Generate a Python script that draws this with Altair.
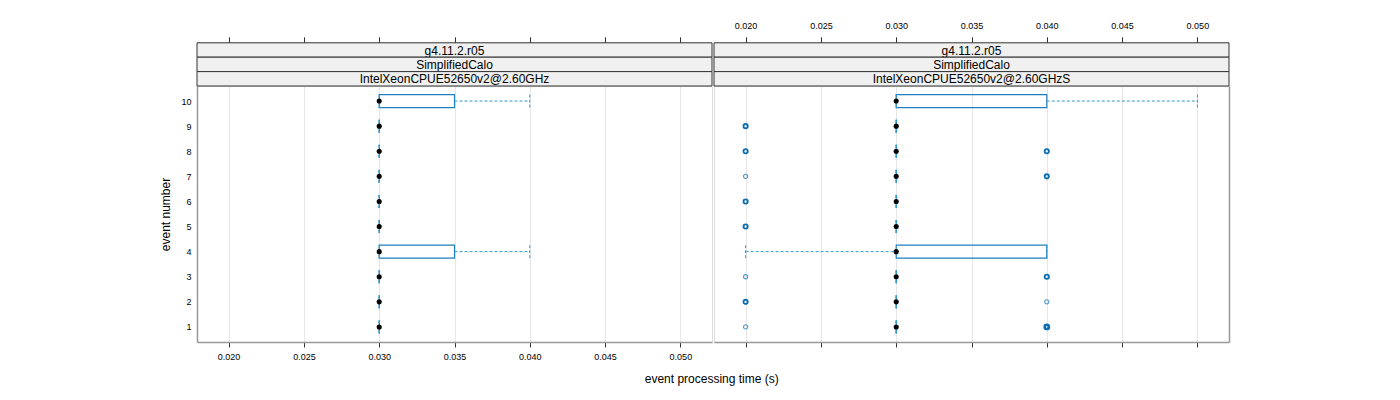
import altair as alt
import pandas as pd

# ---------------- data ----------------
events = [1, 2, 3, 4, 5, 6, 7, 8, 9, 10]
strip_rows = ["g4.11.2.r05", "SimplifiedCalo"]
panel_names = ["IntelXeonCPUE52650v2@2.60GHz", "IntelXeonCPUE52650v2@2.60GHzS"]
x_ticks = [0.020, 0.025, 0.030, 0.035, 0.040, 0.045, 0.050]
y_ticks = [1, 2, 3, 4, 5, 6, 7, 8, 9, 10]

# left panel box statistics (event 1..10)
left_lo = [0.030, 0.030, 0.030, 0.030, 0.030, 0.030, 0.030, 0.030, 0.030, 0.030]
left_q1 = [0.030, 0.030, 0.030, 0.030, 0.030, 0.030, 0.030, 0.030, 0.030, 0.030]
left_med = [0.030, 0.030, 0.030, 0.030, 0.030, 0.030, 0.030, 0.030, 0.030, 0.030]
left_q3 = [0.030, 0.030, 0.030, 0.035, 0.030, 0.030, 0.030, 0.030, 0.030, 0.035]
left_hi = [0.030, 0.030, 0.030, 0.040, 0.030, 0.030, 0.030, 0.030, 0.030, 0.040]

# right panel box statistics (event 1..10)
right_lo = [0.030, 0.030, 0.030, 0.020, 0.030, 0.030, 0.030, 0.030, 0.030, 0.030]
right_q1 = [0.030, 0.030, 0.030, 0.030, 0.030, 0.030, 0.030, 0.030, 0.030, 0.030]
right_med = [0.030, 0.030, 0.030, 0.030, 0.030, 0.030, 0.030, 0.030, 0.030, 0.030]
right_q3 = [0.030, 0.030, 0.030, 0.040, 0.030, 0.030, 0.030, 0.030, 0.030, 0.040]
right_hi = [0.030, 0.030, 0.030, 0.040, 0.030, 0.030, 0.030, 0.030, 0.030, 0.050]

# right panel outliers (count = how many overlapping points)
out_event = [9, 8, 8, 7, 7, 6, 5, 3, 3, 2, 2, 1, 1]
out_value = [0.020, 0.020, 0.040, 0.020, 0.040, 0.020, 0.020, 0.020, 0.040, 0.020, 0.040, 0.020, 0.040]
out_count = [2, 2, 2, 1, 2, 2, 2, 1, 2, 2, 1, 1, 3]

# ---------------- style ----------------
FONT = "Liberation Sans"
W, H = 515, 256
STRIP_H = 14.4
BOX = 13
BOX_COL = "#1f7fbf"
WHISK_COL = "#3399cc"
OUT_COL = "#0a6eb4"
FRAME = "#999999"

xs = alt.Scale(domain=[0.0179, 0.0521], nice=False, zero=False, padding=0)
ys = alt.Scale(domain=[0.4, 10.6], nice=False, zero=False, padding=0)


def panel(idx, lo, q1, med, q3, hi, outliers):
    df = pd.DataFrame({"event": events, "lo": lo, "q1": q1, "med": med, "q3": q3, "hi": hi})
    base = alt.Chart(df)
    left = idx == 0

    bottom_axis = alt.Axis(
        orient="bottom", values=x_ticks, format=".3f", grid=True, gridColor="#e6e6e6",
        domainColor=FRAME, domainWidth=1.5, tickColor="#333333", tickSize=5,
        labelFontSize=9, labelPadding=5, labelColor="#000000" if left else "transparent",
        title=None, labelFont=FONT,
    )
    top_axis = alt.Axis(
        orient="top", values=x_ticks, format=".3f", grid=False, offset=3 * STRIP_H,
        domain=False, tickColor="#333333", tickSize=6, labelFontSize=9, labelPadding=6,
        labelColor="transparent" if left else "#000000", title=None, labelFont=FONT,
    )
    if left:
        y_axis = alt.Axis(
            orient="left", values=y_ticks, format="d", ticks=False, grid=False,
            domainColor=FRAME, domainWidth=1.5, labelFontSize=9, labelPadding=6,
            title="event number", titleFontSize=12, titleFontWeight="normal",
            titlePadding=8, labelFont=FONT, titleFont=FONT,
        )
    else:
        y_axis = alt.Axis(
            orient="right", values=y_ticks, ticks=False, labels=False, grid=False,
            domainColor=FRAME, domainWidth=1.5, title=None,
        )

    boxes = base.mark_bar(
        orient="horizontal", size=BOX, fill="transparent", stroke=BOX_COL, strokeWidth=1.2
    ).encode(
        x=alt.X("q1:Q", scale=xs, axis=bottom_axis),
        x2="q3:Q",
        y=alt.Y("event:Q", scale=ys, axis=y_axis),
    )
    top_ax = base.mark_point(opacity=0).encode(
        x=alt.X("med:Q", scale=xs, axis=top_axis),
        y=alt.Y("event:Q", scale=ys, axis=None),
    )
    wh_up = base.mark_rule(color=WHISK_COL, strokeDash=[3, 2], strokeWidth=1).encode(
        x=alt.X("q3:Q", scale=xs, axis=None), x2="hi:Q",
        y=alt.Y("event:Q", scale=ys, axis=None),
    )
    wh_lo = base.mark_rule(color=WHISK_COL, strokeDash=[3, 2], strokeWidth=1).encode(
        x=alt.X("lo:Q", scale=xs, axis=None), x2="q1:Q",
        y=alt.Y("event:Q", scale=ys, axis=None),
    )
    cap_up = base.mark_rule(
        color=WHISK_COL, strokeDash=[3, 2], strokeWidth=1, yOffset=-BOX / 2, y2Offset=BOX / 2
    ).encode(
        x=alt.X("hi:Q", scale=xs, axis=None),
        y=alt.Y("event:Q", scale=ys, axis=None), y2="event:Q",
    )
    cap_lo = base.mark_rule(
        color=WHISK_COL, strokeDash=[3, 2], strokeWidth=1, yOffset=-BOX / 2, y2Offset=BOX / 2
    ).encode(
        x=alt.X("lo:Q", scale=xs, axis=None),
        y=alt.Y("event:Q", scale=ys, axis=None), y2="event:Q",
    )
    medians = base.mark_circle(size=26, color="black", opacity=1).encode(
        x=alt.X("med:Q", scale=xs, axis=None),
        y=alt.Y("event:Q", scale=ys, axis=None),
    )

    layers = [boxes, top_ax, wh_up, wh_lo, cap_up, cap_lo]

    if outliers is not None:
        odf = pd.DataFrame({"event": outliers[0], "value": outliers[1], "count": outliers[2]})
        pts = alt.Chart(odf).mark_point(filled=False, size=18, color=OUT_COL).encode(
            x=alt.X("value:Q", scale=xs, axis=None),
            y=alt.Y("event:Q", scale=ys, axis=None),
            strokeWidth=alt.StrokeWidth("count:Q", scale=alt.Scale(domain=[1, 3], range=[1.1, 2.6]), legend=None),
            opacity=alt.Opacity("count:Q", scale=alt.Scale(domain=[1, 2], range=[0.7, 1], clamp=True), legend=None),
        )
        layers.append(pts)

    layers.append(medians)

    # strips
    labels = strip_rows + [panel_names[idx]]
    for i, lab in enumerate(labels):
        top = -3 * STRIP_H + i * STRIP_H
        sdf = pd.DataFrame({"label": [lab]})
        rect = alt.Chart(sdf).mark_rect(fill="#f0f0f0", stroke="#333333", strokeWidth=1).encode(
            x=alt.value(0), x2=alt.value(W), y=alt.value(top), y2=alt.value(top + STRIP_H)
        )
        txt = alt.Chart(sdf).mark_text(
            font=FONT, fontSize=12, baseline="middle", align="center", color="black"
        ).encode(
            text="label:N", x=alt.value(W / 2), y=alt.value(top + STRIP_H / 2 + 0.5)
        )
        layers += [rect, txt]

    return alt.layer(*layers).resolve_axis(x="independent", y="independent").properties(
        width=W, height=H
    )


left_panel = panel(0, left_lo, left_q1, left_med, left_q3, left_hi, None)
right_panel = panel(1, right_lo, right_q1, right_med, right_q3, right_hi,
                    (out_event, out_value, out_count))

chart = alt.hconcat(left_panel, right_panel, spacing=0).properties(
    title=alt.TitleParams(
        "event processing time (s)", orient="bottom", anchor="middle", fontSize=12,
        fontWeight="normal", font=FONT, offset=12, dx=17,
    ),
    padding={"left": 151, "top": 13, "right": 5, "bottom": 5},
).configure_view(
    stroke="#000000", strokeWidth=1
).configure(font=FONT)

chart.save("out.html", embed_options={"renderer": "svg", "actions": False})
